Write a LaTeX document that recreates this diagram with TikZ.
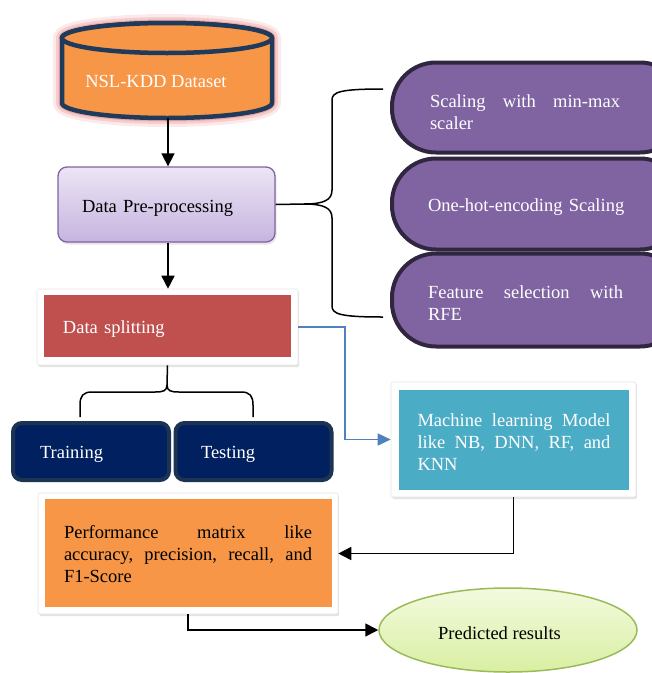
\documentclass[tikz,border=0pt]{standalone}
\usepackage{fontspec}
\setmainfont{Liberation Serif}
\usetikzlibrary{arrows.meta,shadows,shapes.geometric}
\definecolor{cylorange}{HTML}{F79646}
\definecolor{cylnavy}{HTML}{1F3A5A}
\definecolor{ppfillA}{HTML}{EBE5F4}
\definecolor{ppfillB}{HTML}{C7B4E0}
\definecolor{ppborder}{HTML}{8064A2}
\definecolor{pillfill}{HTML}{8064A2}
\definecolor{pillborder}{HTML}{30263F}
\definecolor{splitred}{HTML}{C0504D}
\definecolor{mlteal}{HTML}{4BACC6}
\definecolor{trnavy}{HTML}{002060}
\definecolor{trborder}{HTML}{1C3354}
\definecolor{arrblue}{HTML}{4F81BD}
\definecolor{grnborder}{HTML}{9BBB59}
\definecolor{grnA}{HTML}{F3FADF}
\definecolor{grnB}{HTML}{D9EFA2}
\definecolor{glowA}{HTML}{FCEAEA}
\definecolor{glowB}{HTML}{F6CDCD}
\definecolor{glowC}{HTML}{EDAAAA}
\begin{document}
\begin{tikzpicture}[x=1pt,y=1pt,
  font=\fontsize{18.5}{22}\selectfont,
  every node/.style={execute at begin node={\hyphenpenalty=10000}},
  whitebox/.style={draw=black!10, fill=white, line width=0.6pt, rounded corners=2pt,
     drop shadow={shadow xshift=1.2pt, shadow yshift=-2pt, opacity=0.22}},
  innerbox/.style={inner sep=0pt},
  txt/.style={inner sep=0pt, align=justify},
  wtxt/.style={txt, text=white},
  darkbox/.style={fill=trnavy, draw=trborder, line width=4pt, rounded corners=9pt, inner sep=0pt},
  pill/.style={fill=pillfill, draw=pillborder, line width=4pt, rounded corners=44pt, inner sep=0pt},
  blk/.style={line width=1.6pt, -{Triangle[width=13pt,length=13pt]}},
  blu/.style={draw=arrblue, line width=1.6pt, -{Triangle[width=12pt,length=13pt]}, arrblue},
  brace/.style={line width=1.5pt}
]
\useasboundingbox (0,0) rectangle (652,-673);

% ---------- Cylinder with glow ----------
\foreach \w/\c in {18/glowA, 12/glowB, 7/glowC}{
  \draw[line width=\w pt, \c, line join=round]
    (62,-38) -- (62,-103) arc[start angle=180,end angle=360,x radius=105,y radius=15]
    -- (272,-38) arc[start angle=0,end angle=180,x radius=105,y radius=15] -- cycle;
}
\draw[fill=cylorange, draw=cylnavy, line width=4.5pt, line join=round]
  (62,-38) -- (62,-103) arc[start angle=180,end angle=360,x radius=105,y radius=15]
  -- (272,-38) arc[start angle=0,end angle=180,x radius=105,y radius=15] -- cycle;
\draw[fill=cylorange, draw=cylnavy, line width=4.5pt] (167,-38) ellipse [x radius=105, y radius=15];
\node[wtxt] (ds) at (156,-81) {NSL-KDD Dataset};
\coordinate (dsb) at (168,-118);

% ---------- Data Pre-processing ----------
\node[top color=ppfillA, bottom color=ppfillB, draw=ppborder, line width=1.3pt,
      rounded corners=9pt, minimum width=217pt, minimum height=75pt, inner sep=0pt,
      drop shadow={shadow xshift=1.5pt, shadow yshift=-2.5pt, opacity=0.2}]
      (pp) at (166.5,-204.5) {};
\node[txt, text width=169pt, align=left] (ppT) at (166.5,-208) {Data Pre-processing};

% ---------- Pills ----------
\node[pill, minimum width=292pt, minimum height=90pt] (p1) at (538,-107.5) {};
\node[pill, minimum width=292pt, minimum height=91pt] (p2) at (538,-204) {};
\node[pill, minimum width=292pt, minimum height=93pt] (p3) at (538,-300) {};
\node[wtxt, text width=190pt] (t1) at (525,-112) {Scaling with min-max\linebreak scaler};
\node[wtxt, text width=200pt, align=left] (t2) at (528,-207) {One-hot-encoding Scaling};
\node[wtxt, text width=195pt] (t3) at (525.5,-303) {Feature selection with\linebreak RFE};

% brace from pre-processing
\coordinate (bt) at (304,-204);
\draw[brace] (pp.east) -- (bt) .. controls (324,-204) and (332,-200) .. (332,-190)
   -- (332,-100) .. controls (332,-92) and (340,-89) .. (383,-89);
\draw[brace] (bt) .. controls (324,-204) and (332,-208) .. (332,-218)
   -- (332,-306) .. controls (332,-314) and (340,-317) .. (383,-317);

% ---------- Data splitting ----------
\node[whitebox, minimum width=261pt, minimum height=76pt] (dso) at (167.5,-327) {};
\node[innerbox, fill=splitred, minimum width=247pt, minimum height=62pt] (dsplit) at (167.5,-326) {};
\node[wtxt, text width=209pt, align=left] (dsT) at (167.5,-329) {Data splitting};

% brace below
\coordinate (bb) at (167,-385);
\draw[brace] (dso.south) -- (bb) .. controls (167,-391) and (163,-392) .. (155,-392)
   -- (92,-392) .. controls (83,-392) and (80,-396) .. (80,-405) -- (80,-417);
\draw[brace] (bb) .. controls (167,-391) and (171,-392) .. (179,-392)
   -- (241,-392) .. controls (250,-392) and (253,-396) .. (253,-405) -- (253,-417);

% ---------- Training / Testing ----------
\node[darkbox, minimum width=156pt, minimum height=57pt] (train) at (91,-451.5) {};
\node[darkbox, minimum width=156pt, minimum height=57pt] (test) at (253.5,-451.5) {};
\node[wtxt, text width=102pt, align=left] (trainT) at (91,-454.5) {Training};
\node[wtxt, text width=105pt, align=left] (testT) at (253.5,-454.5) {Testing};

% ---------- ML model ----------
\node[whitebox, minimum width=245pt, minimum height=115pt] (mlo) at (513.5,-439.5) {};
\node[innerbox, fill=mlteal, minimum width=230pt, minimum height=100pt] (ml) at (514,-440) {};
\node[wtxt, text width=193pt] (mlT) at (514,-442.5)
   {Machine learning Model\linebreak like NB, DNN, RF, and\linebreak KNN};

% ---------- Performance ----------
\node[whitebox, minimum width=300pt, minimum height=121pt] (pfo) at (188,-553.5) {};
\node[innerbox, fill=cylorange, minimum width=287pt, minimum height=108pt] (pf) at (188,-553) {};
\node[txt, text width=248pt] (pfT) at (188,-554)
   {Performance matrix like\linebreak accuracy, precision, recall, and\linebreak F1-Score};

% ---------- Predicted results ----------
\node[ellipse, top color=grnA, bottom color=grnB, draw=grnborder, line width=1.5pt,
      minimum width=258pt, minimum height=84pt, inner sep=0pt] (pred) at (508,-630) {};
\node[inner sep=0pt] (predtxt) at (499.5,-633) {Predicted results};

% ---------- Connectors ----------
\draw[blk] (dsb) -- (dsb |- pp.north);
\draw[blk] (pp.south -| dsb) -- (dsb |- dso.north);
\draw[blu] (dso.east) -- (345,-327) |- (mlo.west);
\draw[blk] (mlo.south) |- (pfo.east);
\draw[blk] (pfo.south) |- (pred.west);
\end{tikzpicture}
\end{document}
